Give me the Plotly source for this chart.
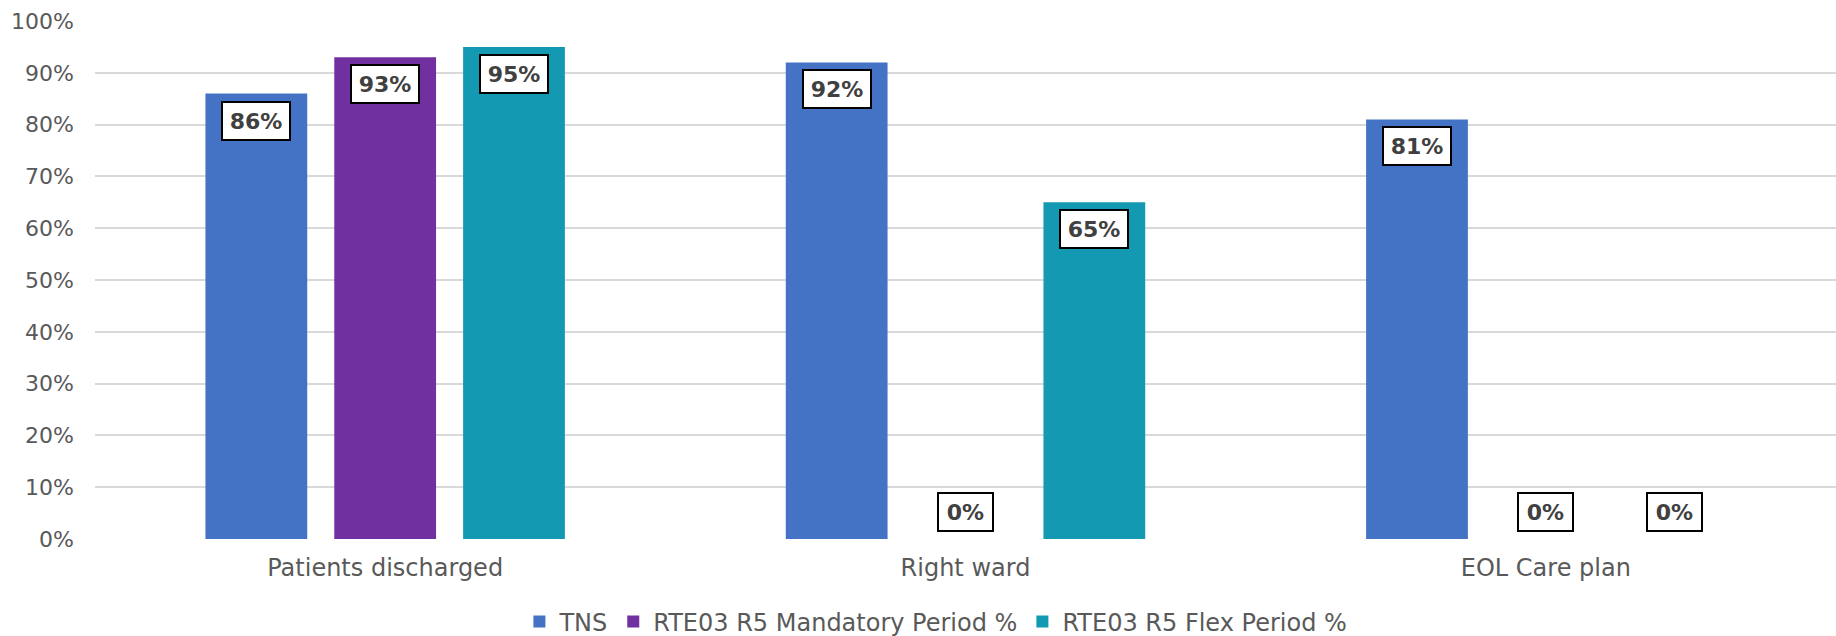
import plotly.graph_objects as go

categories = ["Patients discharged", "Right ward", "EOL Care plan"]
series_names = ["TNS", "RTE03 R5 Mandatory Period %", "RTE03 R5 Flex Period %"]
tns = [86, 92, 81]
mandatory = [93, 0, 0]
flex = [95, 65, 0]
y_ticks = [0, 10, 20, 30, 40, 50, 60, 70, 80, 90, 100]

colors = ["#4472C4", "#7030A0", "#1399B2"]
series_values = [tns, mandatory, flex]

FONT = "DejaVu Sans"
TICK_COLOR = "#595959"
LABEL_COLOR = "#404040"

fig = go.Figure()
for name, vals, col in zip(series_names, series_values, colors):
    fig.add_trace(go.Bar(
        name=name, x=categories, y=vals,
        marker=dict(color=col, line=dict(width=0)),
        hoverinfo="skip",
    ))

W, H = 1836, 636
margin = dict(l=95, r=0, t=21, b=97, autoexpand=False)
plot_w = W - margin["l"] - margin["r"]
cat_w = plot_w / len(categories)
bargap = 0.334
bargroupgap = 0.21
slot = cat_w * (1 - bargap) / len(series_names)

annotations = []
for i, vals in enumerate(series_values):
    offset = (i - (len(series_names) - 1) / 2) * slot
    for cat, v in zip(categories, vals):
        zero = v == 0
        txt = f"{v}%"
        annotations.append(dict(
            x=cat, y=v, xref="x", yref="y",
            text=f"<b>{txt}</b>", showarrow=False,
            xshift=offset,
            yanchor="bottom" if zero else "top",
            yshift=7 if zero else -7,
            width=13 * len(txt) + 21, height=30,
            font=dict(family=FONT, size=22, color=LABEL_COLOR),
            bgcolor="white", bordercolor="#000000", borderwidth=2, borderpad=3,
        ))

fig.update_layout(
    width=W, height=H,
    margin=margin,
    paper_bgcolor="white", plot_bgcolor="white",
    barmode="group", bargap=bargap, bargroupgap=bargroupgap,
    font=dict(family=FONT, size=22, color=TICK_COLOR),
    showlegend=True,
    hovermode=False,
    legend=dict(orientation="h", x=0.483, xanchor="center", y=-0.16, yanchor="middle",
                font=dict(family=FONT, size=24, color=TICK_COLOR),
                itemclick=False, traceorder="normal"),
    annotations=annotations,
    xaxis=dict(showgrid=False, showline=False, zeroline=False, ticks="",
               automargin=False,
               tickfont=dict(family=FONT, size=24, color=TICK_COLOR),
               ticklabelstandoff=12),
    yaxis=dict(range=[0, 100], tickvals=y_ticks, ticktext=[f"{t}%" for t in y_ticks],
               automargin=False,
               showgrid=True, gridcolor="#D9D9D9", gridwidth=1.5,
               zeroline=False, showline=False, ticks="",
               tickfont=dict(family=FONT, size=22, color=TICK_COLOR),
               ticklabelstandoff=20),
)

fig.write_html(
    "out.html",
    config={"displayModeBar": False},
    post_script="document.body.style.margin='0';document.body.style.overflow='hidden';",
)
